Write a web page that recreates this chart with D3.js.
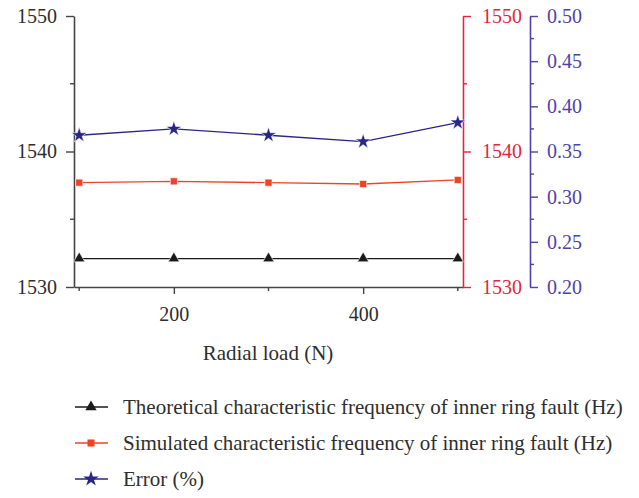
<!DOCTYPE html>
<html>
<head>
  <script src="https://cdn.jsdelivr.net/npm/d3@7"></script>
  <style>
    body { margin: 0; background: #fff; }
    text { font-family: "Liberation Serif", "DejaVu Serif", serif; }
  </style>
</head>
<body>
  <script>
    // data
    const loads = [100, 200, 300, 400, 500];
    const theoretical = [1532.1, 1532.1, 1532.1, 1532.1, 1532.1];
    const simulated = [1537.7, 1537.8, 1537.7, 1537.6, 1537.9];
    const errorPct = [0.368, 0.375, 0.368, 0.361, 0.382];
    const xTicks = [200, 400];
    const freqTicks = [1530, 1540, 1550];
    const errTicks = [0.20, 0.25, 0.30, 0.35, 0.40, 0.45, 0.50];
    const legendNames = [
      "Theoretical characteristic frequency of inner ring fault (Hz)",
      "Simulated characteristic frequency of inner ring fault (Hz)",
      "Error (%)"
    ];

    const w = 639, h = 498;
    const plotLeft = 74, plotRight = 463, plotTop = 16, plotBottom = 287;

    const svg = d3.select("body").append("svg")
      .attr("width", w).attr("height", h);

    const xScale = d3.scaleLinear().domain([94.5, 505.5]).range([plotLeft, plotRight]);
    const yScale = d3.scaleLinear().domain([1530, 1550]).range([plotBottom, plotTop]);
    const eScale = d3.scaleLinear().domain([0.20, 0.50]).range([plotBottom, plotTop]);

    const black = "#1a1a1a", red = "#ee4426", redAxis = "#e3263a",
      navy = "#2a2688", blueAxis = "#5142a8", grey = "#2e2e2e";

    // bottom axis
    const xg = svg.append("g").attr("transform", `translate(0,${plotBottom})`)
      .call(d3.axisBottom(xScale).tickValues(xTicks).tickSize(7).tickPadding(13).tickSizeOuter(0));
    xg.append("g").selectAll("line").data([100, 300, 500]).enter().append("line")
      .attr("x1", d => xScale(d)).attr("x2", d => xScale(d))
      .attr("y1", 0).attr("y2", 4);

    // left axis
    const yg = svg.append("g").attr("transform", `translate(${plotLeft},0)`)
      .call(d3.axisLeft(yScale).tickValues(freqTicks).tickFormat(d3.format("d"))
        .tickSize(8).tickPadding(9).tickSizeOuter(0));
    yg.append("g").selectAll("line").data([1535, 1545]).enter().append("line")
      .attr("x1", 0).attr("x2", -4)
      .attr("y1", d => yScale(d)).attr("y2", d => yScale(d));

    // right red axis
    const rg = svg.append("g").attr("transform", `translate(${plotRight},0)`)
      .call(d3.axisRight(yScale).tickValues(freqTicks).tickFormat(d3.format("d"))
        .tickSize(8).tickPadding(11).tickSizeOuter(0));
    rg.append("g").selectAll("line").data([1535, 1545]).enter().append("line")
      .attr("x1", 0).attr("x2", 4)
      .attr("y1", d => yScale(d)).attr("y2", d => yScale(d));

    // right blue axis
    const bg = svg.append("g").attr("transform", `translate(530,0)`)
      .call(d3.axisRight(eScale).tickValues(errTicks).tickFormat(d3.format(".2f"))
        .tickSize(8).tickPadding(9).tickSizeOuter(0));
    bg.append("g").selectAll("line").data([0.225, 0.275, 0.325, 0.375, 0.425, 0.475]).enter().append("line")
      .attr("x1", 0).attr("x2", 4)
      .attr("y1", d => eScale(d)).attr("y2", d => eScale(d));

    function styleAxis(g, col, textCol) {
      g.select(".domain").attr("stroke", col).attr("stroke-width", 1.6);
      g.selectAll("line").attr("stroke", col).attr("stroke-width", 1.4);
      g.selectAll("text").attr("fill", textCol).attr("font-size", "20px")
        .attr("font-family", "'Liberation Serif', serif");
    }
    styleAxis(xg, "#444", grey);
    styleAxis(yg, "#444", grey);
    styleAxis(rg, redAxis, redAxis);
    styleAxis(bg, blueAxis, blueAxis);

    // x label
    svg.append("text").attr("x", 268).attr("y", 360).attr("text-anchor", "middle")
      .attr("fill", grey).attr("font-size", "21px").text("Radial load (N)");

    const seriesList = [
      { vals: theoretical, scale: yScale, line: black, fill: black, sym: d3.symbolTriangle, size: 55 },
      { vals: simulated, scale: yScale, line: red, fill: red, sym: d3.symbolSquare, size: 50 },
      { vals: errorPct, scale: eScale, line: navy, fill: navy, sym: d3.symbolStar, size: 75 }
    ];

    seriesList.forEach(function (s) {
      const line = d3.line()
        .x((d, i) => xScale(loads[i]))
        .y(d => s.scale(d));
      svg.append("path").datum(s.vals)
        .attr("d", line).attr("fill", "none")
        .attr("stroke", s.line).attr("stroke-width", 1.3);
      svg.selectAll(null).data(s.vals).enter().append("path")
        .attr("d", d3.symbol().type(s.sym).size(s.size))
        .attr("transform", (d, i) => `translate(${xScale(loads[i])},${s.scale(d)})`)
        .attr("fill", s.fill).attr("stroke", "#fff").attr("stroke-width", 0.6);
    });

    // legend
    const legend = svg.append("g");
    seriesList.forEach(function (s, i) {
      const y = 407 + i * 36;
      legend.append("line").attr("x1", 75).attr("x2", 108).attr("y1", y).attr("y2", y)
        .attr("stroke", s.line).attr("stroke-width", 1.3);
      legend.append("path")
        .attr("d", d3.symbol().type(s.sym).size(s.size))
        .attr("transform", `translate(91,${y})`).attr("fill", s.fill);
      legend.append("text").attr("x", 123).attr("y", y).attr("dy", "0.35em")
        .attr("fill", grey).attr("font-size", "21px").text(legendNames[i]);
    });
  </script>
</body>
</html>
